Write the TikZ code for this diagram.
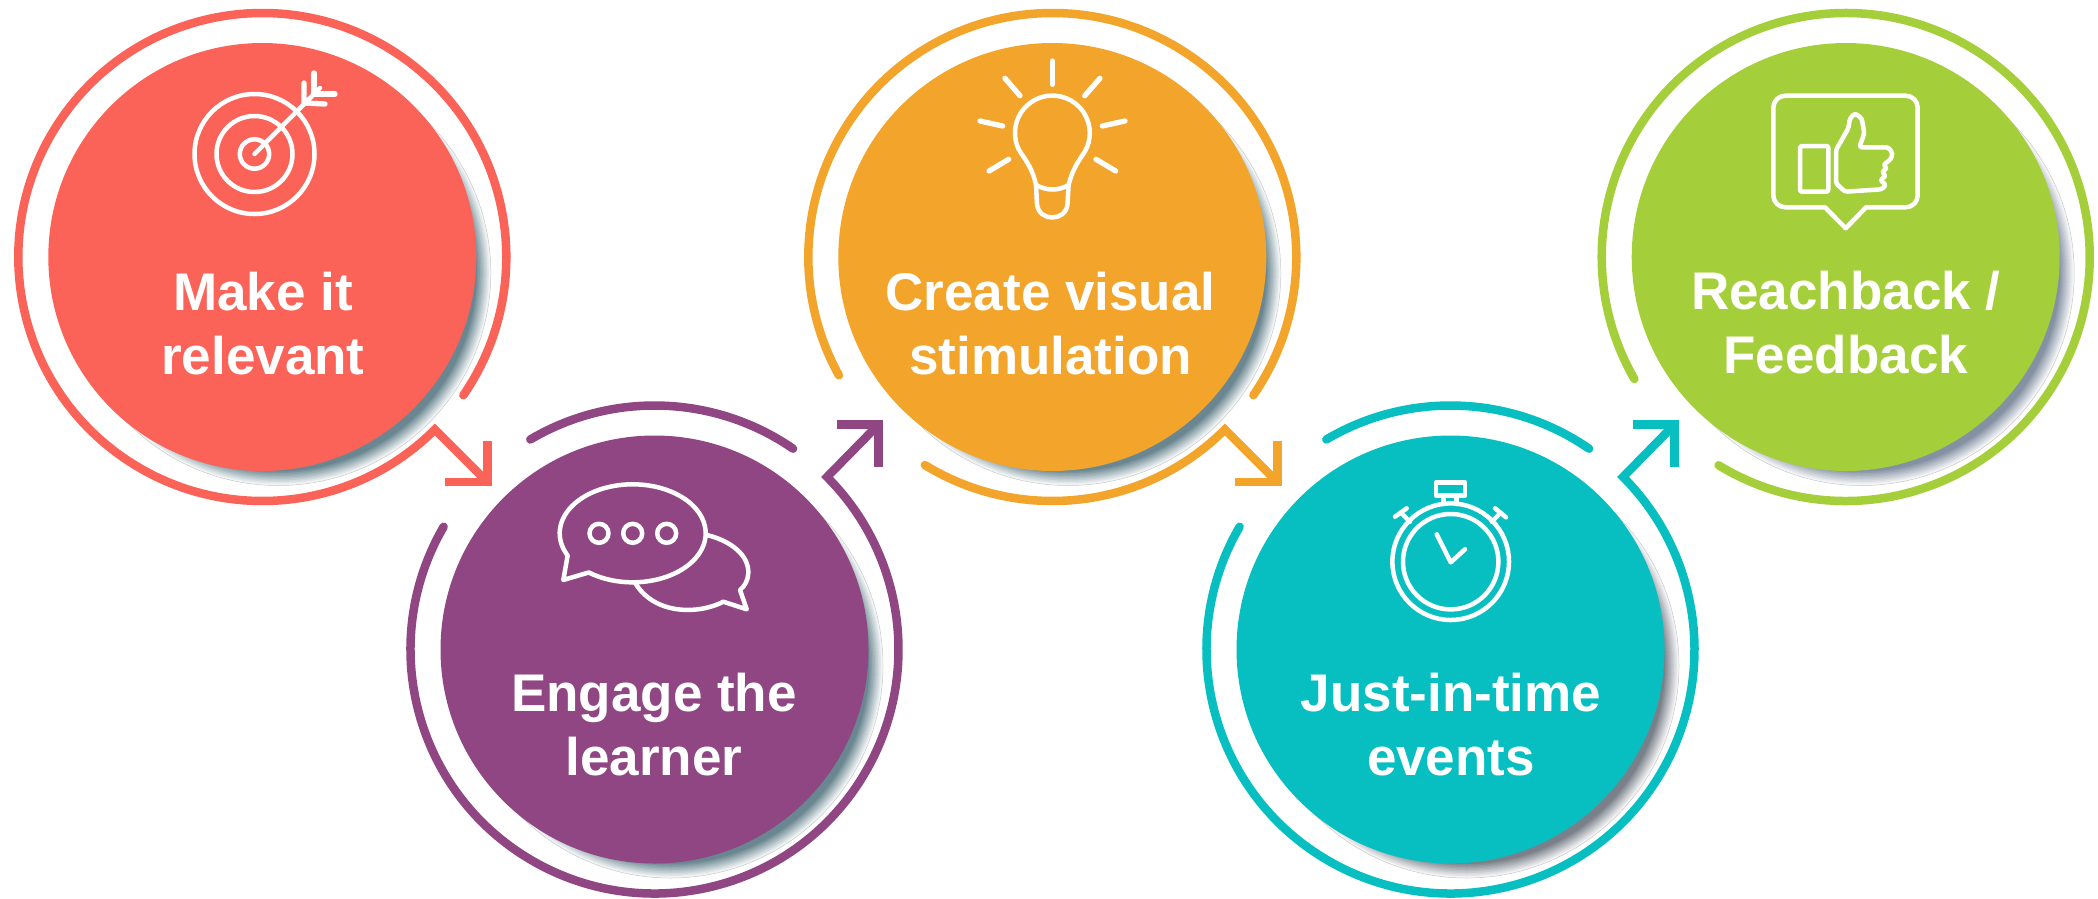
\documentclass[tikz,border=0pt]{standalone}
\usepackage{fontspec}
\setmainfont{Liberation Sans}
\usepackage{tikz}
\usetikzlibrary{calc}
\definecolor{ringred}{HTML}{FB6359}
\definecolor{ringpurple}{HTML}{8F4682}
\definecolor{ringorange}{HTML}{F2A42B}
\definecolor{ringteal}{HTML}{07BEC1}
\definecolor{ringgreen}{HTML}{A5CF3A}
\definecolor{shadowblue}{HTML}{6A8791}
\definecolor{shadowgray}{HTML}{7A808A}
\definecolor{shadowslate}{HTML}{8491A3}
\tikzset{
  disc/.style={circle, minimum size=428pt, inner sep=0pt},
  ringline/.style={line width=8.5pt, line cap=round, line join=miter, miter limit=10},
  barbline/.style={line width=8.5pt, line cap=butt, line join=miter},
  steplabel/.style={text=white, align=center, anchor=base, font=\fontsize{53}{64}\selectfont\bfseries},
  iconline/.style={white, line width=4.5pt, line cap=round, line join=round},
}
\newcommand{\discshadow}[3]{%
  \foreach \k [evaluate=\k as \c using 10+\k*10] in {0,...,9}
    \fill[#3!\c!white] (#1+16,#2+16) circle [radius=212-\k*1.5];
  \draw[gray!45, line width=0.5pt] (#1+16,#2+16) circle [radius=212.5];
}
\begin{document}
\begin{tikzpicture}[x=1pt, y=1pt, yscale=-1]
    \useasboundingbox (0,0) rectangle (2098,898);
    %Values
    \def\rr{244}
    \def\ya{257}
    \def\yb{649.5}

    % Shadows
    \discshadow{262.3}{\ya}{shadowblue}
    \discshadow{654.5}{\yb}{shadowblue}
    \discshadow{1052.3}{\ya}{shadowblue}
    \discshadow{1450.5}{\yb}{shadowgray}
    \discshadow{1845.7}{\ya}{shadowslate}

    % Discs
    \node[disc, fill=ringred] (redc) at (262.3,\ya) {};
    \node[disc, fill=ringpurple] (purplec) at (654.5,\yb) {};
    \node[disc, fill=ringorange] (orangec) at (1052.3,\ya) {};
    \node[disc, fill=ringteal] (tealc) at (1450.5,\yb) {};
    \node[disc, fill=ringgreen] (greenc) at (1845.7,\ya) {};

    % Arrow ends
    \coordinate (redtip) at ($(redc)+(225,225)$);
    \coordinate (redba) at ($(redc)+(182.5,225)$);
    \coordinate (redbb) at ($(redc)+(225,184)$);
    \coordinate (orangetip) at ($(orangec)+(225,225)$);
    \coordinate (orangeba) at ($(orangec)+(182.5,225)$);
    \coordinate (orangebb) at ($(orangec)+(225,184)$);
    \coordinate (purpletip) at ($(purplec)+(224,-225)$);
    \coordinate (purpleba) at ($(purplec)+(182,-225)$);
    \coordinate (purplebb) at ($(purplec)+(224,-183)$);
    \coordinate (tealtip) at ($(tealc)+(224,-225)$);
    \coordinate (tealba) at ($(tealc)+(182,-225)$);
    \coordinate (tealbb) at ($(tealc)+(224,-183)$);

    % Rings
    \draw[ringline, ringred] ($(redc)+(34.5:\rr)$) arc [start angle=34.5, end angle=-315, radius=\rr] -- (redtip);
    \draw[barbline, ringred] (redba) -- (redtip) -- (redbb);

    \draw[ringline, ringpurple] ($(purplec)+(-55.4:\rr)$) arc [start angle=-55.4, end angle=-120.6, radius=\rr];
    \draw[ringline, ringpurple] ($(purplec)+(-149.8:\rr)$) arc [start angle=-149.8, end angle=-405, radius=\rr] -- (purpletip);
    \draw[barbline, ringpurple] (purpleba) -- (purpletip) -- (purplebb);

    \draw[ringline, ringorange] ($(orangec)+(34.5:\rr)$) arc [start angle=34.5, end angle=-209, radius=\rr];
    \draw[ringline, ringorange] ($(orangec)+(-238.5:\rr)$) arc [start angle=-238.5, end angle=-315, radius=\rr] -- (orangetip);
    \draw[barbline, ringorange] (orangeba) -- (orangetip) -- (orangebb);

    \draw[ringline, ringteal] ($(tealc)+(-55.4:\rr)$) arc [start angle=-55.4, end angle=-120.6, radius=\rr];
    \draw[ringline, ringteal] ($(tealc)+(-149.8:\rr)$) arc [start angle=-149.8, end angle=-405, radius=\rr] -- (tealtip);
    \draw[barbline, ringteal] (tealba) -- (tealtip) -- (tealbb);

    \draw[ringline, ringgreen] ($(greenc)+(-238.6:\rr)$) arc [start angle=-238.6, end angle=-570, radius=\rr];

    % Target
    \coordinate (target) at (254.5,154);
    \draw[iconline] (target) circle [radius=60];
    \draw[iconline] (target) circle [radius=38];
    \draw[iconline] (target) circle [radius=14.7];
    \draw[iconline] (target) -- (320,88);
    \draw[iconline, line width=5.3pt] (304,83) -- (304,103) -- (325,104);
    \draw[iconline, line width=5.3pt] (314,73) -- (314,94) -- (335,94);

    % Bubbles
    \coordinate (bubble) at (632.7,533.3);
    \draw[iconline] ($(bubble)+(127:73 and 49)$) arc [start angle=127, end angle=-207, x radius=73, y radius=49] -- (563.3,580) -- cycle;
    \draw[iconline] (706.7,535) .. controls (732,541) and (749,556) .. (748.3,573) .. controls (748,580) and (745,586) .. (740,590) -- (746.7,609.3) -- (723.3,601.7) .. controls (700,614) and (655,616) .. (635,582.7);
    \draw[iconline] (599,533.3) circle [radius=9.5];
    \draw[iconline] (632.7,533.3) circle [radius=9.5];
    \draw[iconline] (666.7,533.3) circle [radius=9.5];

    % Bulb
    \draw[iconline] (1036,185) .. controls (1033,171) and (1028,163) .. (1020,151.7) arc [start angle=150, end angle=390, radius=37.4] .. controls (1077,163) and (1072,171) .. (1068.6,185) -- (1067.5,204) .. controls (1066,222) and (1038.5,222) .. (1037,204) -- cycle;
    \draw[iconline] (1036,185) .. controls (1047,191) and (1058,191) .. (1068.6,185);
    \draw[iconline, line width=5.3pt] (1052.3,61) -- (1052.3,84.3);
    \draw[iconline, line width=5.3pt] (1005,78.3) -- (1020,95.7);
    \draw[iconline, line width=5.3pt] (1100,78.3) -- (1084.7,95.7);
    \draw[iconline, line width=5.3pt] (980,121) -- (1002.7,126);
    \draw[iconline, line width=5.3pt] (1125,121) -- (1102.3,126);
    \draw[iconline, line width=5.3pt] (989,171) -- (1008.7,159.3);
    \draw[iconline, line width=5.3pt] (1115.7,171) -- (1096,159.3);

    % Stopwatch
    \coordinate (watch) at (1450.7,561.7);
    \draw[iconline] (watch) circle [radius=58.3];
    \draw[iconline] (watch) circle [radius=47.7];
    \draw[iconline] (1436,482.3) rectangle (1465,495.7);
    \draw[iconline] (1443.3,495.7) -- (1443.3,504);
    \draw[iconline] (1456.7,495.7) -- (1456.7,504);
    \draw[iconline] (1395,516.7) -- (1406.7,508.3);
    \draw[iconline] (1400.7,512.5) -- (1410,521.7);
    \draw[iconline] (1495,508.3) -- (1506,517.3);
    \draw[iconline] (1500.7,512.7) -- (1491.7,521.7);
    \draw[iconline] (1436.7,534.3) -- (1450.7,562.3) -- (1465,549.3);

    % Thumb
    \draw[iconline] (1866,207.3) [rounded corners=12pt] -- (1917.7,207.3) -- (1917.7,95.7) -- (1773.3,95.7) -- (1773.3,207.3) [sharp corners] -- (1825,207.3) -- (1845.7,228.3) -- cycle;
    \draw[iconline, rounded corners=2pt] (1800,146) rectangle (1828.3,191.7);
    \draw[iconline, rounded corners=2.5pt] (1836,150) -- (1848.3,128.3) -- (1850,118.3) -- (1855,113.3) -- (1861.7,118.3) -- (1864.3,133.3) -- (1859.3,147.3) -- (1888.3,147.3) -- (1892.7,153.3) -- (1890.7,159.3) -- (1883.3,165) -- (1887.3,168.3) -- (1881.7,171.7) -- (1886,176) -- (1880,180) -- (1886,185) -- (1881.7,189.3) -- (1845,191.7) -- (1836,183.3) -- cycle;

    % Labels
    \node[steplabel] (redt) at (263,374) {Make it\\relevant};
    \node[steplabel] (purplet) at (654,775.7) {Engage the\\learner};
    \node[steplabel] (oranget) at (1050.5,374) {Create visual\\stimulation};
    \node[steplabel] (tealt) at (1451,775.7) {Just-in-time\\events};
    \node[steplabel] (greent) at (1845.8,373.5) {Reachback /\\Feedback};
\end{tikzpicture}
\end{document}
